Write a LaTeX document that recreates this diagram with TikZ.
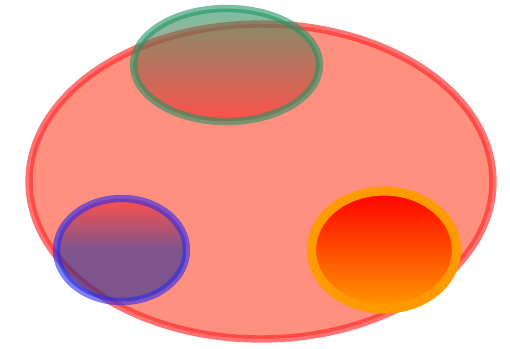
\documentclass[tikz,border=0pt]{standalone}
\usepackage{tikz}
\usetikzlibrary{shapes.geometric}
\definecolor{red500}   {HTML}{FF2000}
\definecolor{red600}   {HTML}{FF2828}
\definecolor{green600} {HTML}{1E9664}
\definecolor{blue600}  {HTML}{2A2AF0}
\definecolor{blue900}  {HTML}{262E95}
\definecolor{orange500}{HTML}{FF9900}
\tikzset{
  blob/.style  ={ellipse, inner sep=0pt, line width=4.2pt},
  outer/.style ={blob, draw=red600, draw opacity=0.65, fill=red500,
                 fill opacity=0.5},
  topb/.style  ={blob, draw=green600, draw opacity=0.6, fill opacity=0.6,
                 top color=green600, bottom color=red600},
  lftb/.style  ={blob, draw=blue600, draw opacity=0.6, fill opacity=0.6,
                 top color=red600, bottom color=blue900,
                 middle color=blue900},
  rgtb/.style  ={blob, draw=orange500, line width=5.2pt,
                 top color=red, bottom color=orange500}
}
\begin{document}
\begin{tikzpicture}[x=0.02cm, y=-0.02cm]
\useasboundingbox (0,0) rectangle (510,348);
\node[outer, minimum width=9.28cm, minimum height=6.3cm] (world) at (261,181.5) {};
\node[topb, minimum width=3.72cm, minimum height=2.26cm] (upper) at (226.5,65) {};
\node[lftb, minimum width=2.6cm, minimum height=2.06cm] (left) at (121.5,250) {};
\node[rgtb, minimum width=2.9cm, minimum height=2.36cm] (right) at (384,250) {};
\end{tikzpicture}
\end{document}
